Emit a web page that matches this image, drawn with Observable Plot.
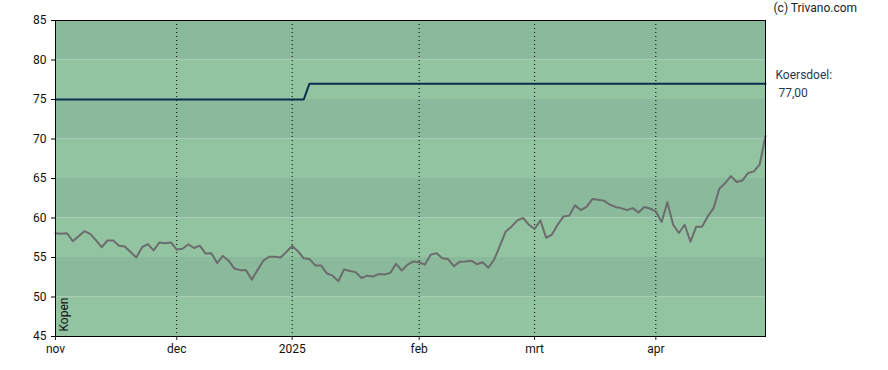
<!DOCTYPE html>
<html>
<head>
<meta charset="utf-8">
<script src="https://cdn.jsdelivr.net/npm/d3@7"></script>
<script src="https://cdn.jsdelivr.net/npm/@observablehq/plot@0.6"></script>
<style>
  html, body { margin: 0; padding: 0; background: #fff; }
  #chart svg { display: block; font-family: Roboto, "Liberation Sans", sans-serif; }
</style>
</head>
<body>
<div id="chart"></div>
<script>
// Closing prices, one per trading day (index 0 = 1 Nov 2024)
const prices = [
  58.07, 58.0, 58.07, 57.06, 57.7, 58.33, 58.0, 57.2, 56.3, 57.15,
  57.15, 56.5, 56.4, 55.7, 55.0, 56.3, 56.7, 55.9, 56.9, 56.8,
  56.9, 56.0, 56.1, 56.65, 56.2, 56.5, 55.5, 55.55, 54.3, 55.2,
  54.6, 53.6, 53.4, 53.4, 52.2, 53.4, 54.6, 55.1, 55.1, 55.0,
  55.7, 56.45, 55.8, 54.9, 54.8, 54.0, 54.0, 53.0, 52.7, 52.0,
  53.5, 53.3, 53.15, 52.4, 52.7, 52.6, 52.9, 52.85, 53.05, 54.2,
  53.35, 54.1, 54.5, 54.4, 54.1, 55.35, 55.55, 54.9, 54.8, 53.9,
  54.45, 54.5, 54.6, 54.15, 54.4, 53.7, 54.75, 56.5, 58.3, 58.9,
  59.7, 60.0, 59.15, 58.6, 59.7, 57.5, 57.9, 59.15, 60.2, 60.3,
  61.6, 61.0, 61.4, 62.4, 62.3, 62.2, 61.7, 61.4, 61.25, 61.0,
  61.25, 60.7, 61.4, 61.2, 60.85, 59.5, 62.0, 59.15, 58.1, 59.15,
  57.0, 58.9, 58.9, 60.2, 61.25, 63.7, 64.4, 65.3, 64.55, 64.75,
  65.7, 65.9, 66.8, 70.4
];

// Price target (koersdoel) steps, by trading-day index
const targetIdx = [0, 43, 44, 123];
const targetVal = [75, 75, 77, 77];

// Month ticks (trading-day index of the first day of each month)
const monthIdx = [0, 21, 41, 63, 83, 104];
const monthLabels = ["nov", "dec", "2025", "feb", "mrt", "apr"];

// Y ticks
const yTicks = [45, 50, 55, 60, 65, 70, 75, 80, 85];

const targetLabel = "Koersdoel:";
const targetText = "77,00";
const copyright = "(c) Trivano.com";
const advice = "Kopen";

// build tables
const priceData = prices.map((v, i) => ({i, v}));
const targetData = targetIdx.map((i, k) => ({i, v: targetVal[k]}));
const bands = yTicks.slice(0, -1).map((lo, k) => ({lo, hi: yTicks[k + 1], k}));
const labelOf = new Map(monthIdx.map((m, k) => [m, monthLabels[k]]));

const chart = Plot.plot({
  width: 888,
  height: 370,
  marginLeft: 55,
  marginRight: 123,
  marginTop: 20,
  marginBottom: 34,
  style: {fontSize: "12px", fontFamily: "Roboto, 'Liberation Sans', sans-serif", color: "#222", background: "#fff"},
  x: {domain: [0, prices.length - 1]},
  y: {domain: [45, 85]},
  marks: [
    Plot.rect(bands, {y1: "lo", y2: "hi", fill: d => d.k % 2 === 0 ? "#92c4a2" : "#8aba9b"}),
    Plot.ruleX(monthIdx.filter(m => m > 0), {stroke: "#000", strokeWidth: 1, strokeDasharray: "1,3"}),
    Plot.line(targetData, {x: "i", y: "v", stroke: "#0b2e4c", strokeWidth: 2}),
    Plot.line(priceData, {x: "i", y: "v", stroke: "#6c6c6c", strokeWidth: 2, strokeLinejoin: "round"}),
    Plot.frame({stroke: "#000", strokeWidth: 1}),
    Plot.axisY({ticks: yTicks, tickSize: 4, tickFormat: d => String(d), label: null, fill: "#111", stroke: "#000", fontSize: 12}),
    Plot.axisX({ticks: monthIdx, tickSize: 4, tickFormat: d => labelOf.get(d), label: null, fill: "#111", fontSize: 12, tickPadding: 4}),
    Plot.text([advice], {frameAnchor: "bottom-left", rotate: -90, textAnchor: "start", lineAnchor: "middle", dx: 9, dy: -5, fill: "#111", fontSize: 12}),
    Plot.text([copyright], {frameAnchor: "top-right", textAnchor: "start", lineAnchor: "middle", dx: 8, dy: -12, fill: "#222", fontSize: 12}),
    Plot.text([targetLabel], {x: () => prices.length - 1, y: () => 77, textAnchor: "start", lineAnchor: "middle", dx: 10, dy: -9, fill: "#1e3a56", fontSize: 12}),
    Plot.text([targetText], {x: () => prices.length - 1, y: () => 77, textAnchor: "start", lineAnchor: "middle", dx: 13, dy: 9, fill: "#1e3a56", fontSize: 12})
  ]
});
document.getElementById("chart").appendChild(chart);
</script>
</body>
</html>
